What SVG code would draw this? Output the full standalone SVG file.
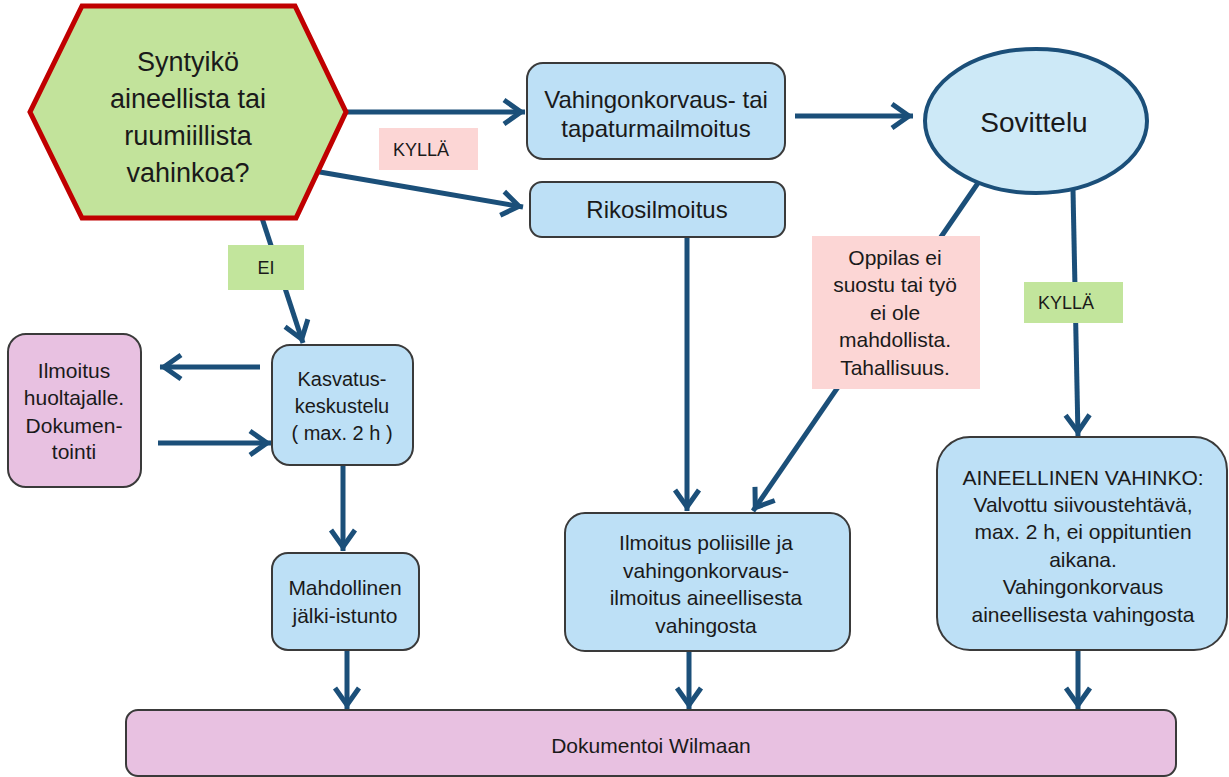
<svg xmlns="http://www.w3.org/2000/svg" width="1229" height="777" viewBox="0 0 1229 777">
<style>
  text { font-family: "Liberation Sans", Arial, sans-serif; fill: #1a1a1a; text-anchor: middle; }
  .box { fill: #bde0f6; stroke: #3a3a3a; stroke-width: 2; }
  .pbox { fill: #e8c1e1; stroke: #3a3a3a; stroke-width: 2; }
  .conn { stroke: #1b4f79; stroke-width: 5; fill: none; }
  .t21 { font-size: 21px; }
  .lbl { font-size: 18px; }
</style>
<defs>
  <marker id="arr" markerUnits="userSpaceOnUse" viewBox="-26 -16 30 32" markerWidth="30" markerHeight="32" refX="0" refY="0" orient="auto">
    <path d="M-21,-12 L-4,0 L-21,12" fill="none" stroke="#1b4f79" stroke-width="5"/>
  </marker>
</defs>
<rect width="1229" height="777" fill="#ffffff"/>

<g id="connectors">
  <line class="conn" x1="346" y1="112" x2="525" y2="112" marker-end="url(#arr)"/>
  <line class="conn" x1="314" y1="171" x2="523" y2="207" marker-end="url(#arr)"/>
  <line class="conn" x1="795" y1="116" x2="913" y2="116" marker-end="url(#arr)"/>
  <line class="conn" x1="262" y1="218" x2="303" y2="343" marker-end="url(#arr)"/>
  <line class="conn" x1="260" y1="367" x2="160" y2="367" marker-end="url(#arr)"/>
  <line class="conn" x1="158" y1="443" x2="271" y2="443" marker-end="url(#arr)"/>
  <line class="conn" x1="343" y1="465" x2="343" y2="551" marker-end="url(#arr)"/>
  <line class="conn" x1="347" y1="650" x2="347" y2="709" marker-end="url(#arr)"/>
  <line class="conn" x1="687" y1="237" x2="687" y2="511" marker-end="url(#arr)"/>
  <line class="conn" x1="978" y1="183" x2="753" y2="511" marker-end="url(#arr)"/>
  <line class="conn" x1="1073" y1="190" x2="1078" y2="436" marker-end="url(#arr)"/>
  <line class="conn" x1="689" y1="651" x2="689" y2="709" marker-end="url(#arr)"/>
  <line class="conn" x1="1078" y1="650" x2="1078" y2="709" marker-end="url(#arr)"/>
</g>

<g id="decision">
  <polygon points="82,6 295,6 346,112 296,218 82,218 30,112" fill="#c2e39b" stroke="#c00000" stroke-width="5" stroke-linejoin="miter"/>
  <text x="188" y="71" font-size="27">Syntyikö</text>
  <text x="188" y="108" font-size="27">aineellista tai</text>
  <text x="188" y="145" font-size="27">ruumiillista</text>
  <text x="188" y="182" font-size="27">vahinkoa?</text>
</g>

<g id="label-kylla-1">
  <rect x="379" y="128" width="99" height="42" fill="#fcd6d5"/>
  <text class="lbl" x="421" y="156">KYLLÄ</text>
</g>

<g id="label-ei">
  <rect x="228" y="245" width="76" height="45" fill="#c2e59c"/>
  <text class="lbl" x="266" y="274">EI</text>
</g>

<g id="vahingonkorvaus">
  <rect class="box" x="527" y="63" width="258" height="96" rx="16"/>
  <text x="656" y="108" font-size="24">Vahingonkorvaus- tai</text>
  <text x="656" y="137" font-size="24">tapaturmailmoitus</text>
</g>

<g id="rikosilmoitus">
  <rect class="box" x="530" y="182" width="255" height="55" rx="12"/>
  <text x="657" y="218" font-size="24">Rikosilmoitus</text>
</g>

<g id="sovittelu">
  <ellipse cx="1036" cy="121" rx="111" ry="72" fill="#cde9f7" stroke="#1b4f79" stroke-width="4"/>
  <text x="1034" y="132" font-size="28">Sovittelu</text>
</g>

<g id="label-oppilas">
  <rect x="812" y="236" width="168" height="153" fill="#fcd6d5"/>
  <text class="t21" x="895" y="265">Oppilas ei</text>
  <text class="t21" x="895" y="292">suostu tai työ</text>
  <text class="t21" x="895" y="320">ei ole</text>
  <text class="t21" x="895" y="347">mahdollista.</text>
  <text class="t21" x="895" y="375">Tahallisuus.</text>
</g>

<g id="label-kylla-2">
  <rect x="1024" y="282" width="99" height="41" fill="#c2e59c"/>
  <text class="lbl" x="1066" y="309">KYLLÄ</text>
</g>

<g id="ilmoitus-huoltajalle">
  <rect class="pbox" x="8" y="334" width="133" height="153" rx="18"/>
  <text class="t21" x="74" y="378">Ilmoitus</text>
  <text class="t21" x="74" y="405">huoltajalle.</text>
  <text class="t21" x="74" y="433">Dokumen-</text>
  <text class="t21" x="74" y="459">tointi</text>
</g>

<g id="kasvatuskeskustelu">
  <rect class="box" x="272" y="345" width="141" height="120" rx="18"/>
  <text x="342" y="386" font-size="20">Kasvatus-</text>
  <text x="342" y="413" font-size="20">keskustelu</text>
  <text x="342" y="440" font-size="20">( max. 2 h )</text>
</g>

<g id="jalki-istunto">
  <rect class="box" x="272" y="553" width="147" height="97" rx="16"/>
  <text class="t21" x="345" y="595">Mahdollinen</text>
  <text class="t21" x="345" y="623">jälki-istunto</text>
</g>

<g id="ilmoitus-poliisille">
  <rect class="box" x="565" y="513" width="285" height="138" rx="20"/>
  <text class="t21" x="706" y="550">Ilmoitus poliisille ja</text>
  <text class="t21" x="706" y="578">vahingonkorvaus-</text>
  <text class="t21" x="706" y="605">ilmoitus aineellisesta</text>
  <text class="t21" x="706" y="633">vahingosta</text>
</g>

<g id="aineellinen-vahinko">
  <rect class="box" x="937" y="437" width="290" height="213" rx="33"/>
  <text class="t21" x="1083" y="485">AINEELLINEN VAHINKO:</text>
  <text class="t21" x="1083" y="512">Valvottu siivoustehtävä,</text>
  <text class="t21" x="1083" y="539">max. 2 h, ei oppituntien</text>
  <text class="t21" x="1083" y="567">aikana.</text>
  <text class="t21" x="1083" y="594">Vahingonkorvaus</text>
  <text class="t21" x="1083" y="622">aineellisesta vahingosta</text>
</g>

<g id="dokumentoi-wilmaan">
  <rect class="pbox" x="126" y="710" width="1050" height="66" rx="12"/>
  <text class="t21" x="651" y="753">Dokumentoi Wilmaan</text>
</g>
</svg>
